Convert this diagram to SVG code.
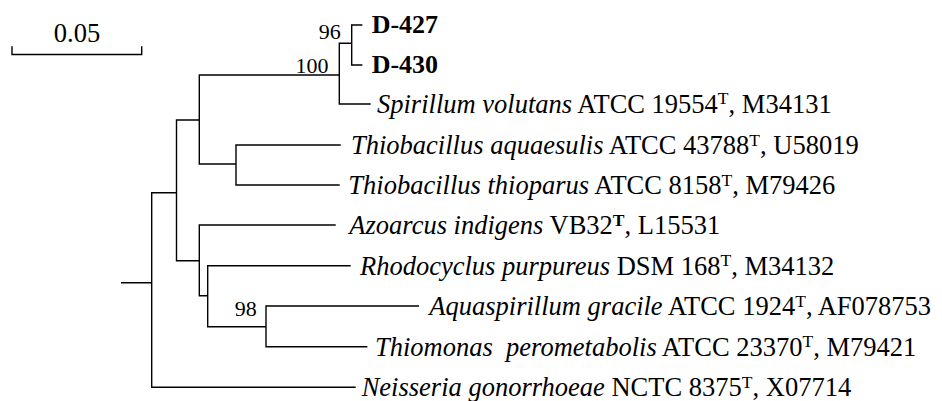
<svg xmlns="http://www.w3.org/2000/svg" width="942" height="401" viewBox="0 0 942 401">
<style>
.br{fill:none;stroke:#000;stroke-width:1.4;stroke-linecap:square}
.lb{font-size:26.5px}
.it{font-style:italic}
.bs{font-size:22px}
.bd{font-size:26px;font-weight:bold}
.sup{font-size:17.5px}
</style>
<rect width="942" height="401" fill="#fff"/>
<g font-family="Liberation Serif, Times New Roman, serif" fill="#000">
<g id="scalebar">
<path class="br" d="M12 47V54.5H141.7V47"/>
<text class="lb" x="77" y="42" text-anchor="middle">0.05</text>
</g>
<g id="connectors">
<path class="br" d="M121.7 282.7H151.7M151.7 192.7V387.3M151.7 387.3H355M151.7 192.7H176.5M176.5 120V260.7M176.5 120H199.3M199.3 75V164M199.3 75H339.3M339.3 43.3V104M339.3 43.3H351.7M351.7 25V65M351.7 25H361.7M351.7 65H361.7M339.3 104H370M199.3 164H236M236 145V185M236 145H340M236 185H339M176.5 260.7H199.3M199.3 225V295.7M199.3 225H335M199.3 295.7H207.7M207.7 265.7V326.7M207.7 265.7H350M207.7 326.7H266M266 306V346.7M266 306H418.3M266 346.7H366.7"/>
</g>
<g id="bootstrap">
<text class="bs" x="340.7" y="39" text-anchor="end">96</text>
<text class="bs" x="328.5" y="73" text-anchor="end">100</text>
<text class="bs" x="256.7" y="316" text-anchor="end">98</text>
</g>
<g id="D-427"><text class="bd" x="371.7" y="33">D-427</text></g>
<g id="D-430"><text class="bd" x="371.7" y="73">D-430</text></g>
<g id="spirillum"><text class="lb" x="377" y="112.5"><tspan class="it">Spirillum volutans</tspan> ATCC 19554<tspan class="sup" dy="-8.5">T</tspan><tspan dy="8.5">, M34131</tspan></text></g>
<g id="thiobacillus-aquaesulis"><text class="lb" x="351" y="154"><tspan class="it">Thiobacillus aquaesulis</tspan> ATCC 43788<tspan class="sup" dy="-8.5">T</tspan><tspan dy="8.5">, U58019</tspan></text></g>
<g id="thiobacillus-thioparus"><text class="lb" x="348.3" y="194"><tspan class="it">Thiobacillus thioparus</tspan> ATCC 8158<tspan class="sup" dy="-8.5">T</tspan><tspan dy="8.5">, M79426</tspan></text></g>
<g id="azoarcus"><text class="lb" x="349.3" y="234"><tspan class="it">Azoarcus indigens</tspan> VB32<tspan class="sup" dy="-8.5" font-weight="bold">T</tspan><tspan dy="8.5">, L15531</tspan></text></g>
<g id="rhodocyclus"><text class="lb" x="360" y="274.5"><tspan class="it">Rhodocyclus purpureus</tspan> DSM 168<tspan class="sup" dy="-8.5">T</tspan><tspan dy="8.5">, M34132</tspan></text></g>
<g id="aquaspirillum"><text class="lb" x="429.3" y="315"><tspan class="it">Aquaspirillum gracile</tspan> ATCC 1924<tspan class="sup" dy="-8.5">T</tspan><tspan dy="8.5">, AF078753</tspan></text></g>
<g id="thiomonas"><text class="lb" x="375" y="355.5" xml:space="preserve"><tspan class="it">Thiomonas  perometabolis</tspan> ATCC 23370<tspan class="sup" dy="-8.5">T</tspan><tspan dy="8.5">, M79421</tspan></text></g>
<g id="neisseria"><text class="lb" x="361.7" y="396"><tspan class="it">Neisseria gonorrhoeae</tspan> NCTC 8375<tspan class="sup" dy="-8.5">T</tspan><tspan dy="8.5">, X07714</tspan></text></g>
</g>
</svg>
